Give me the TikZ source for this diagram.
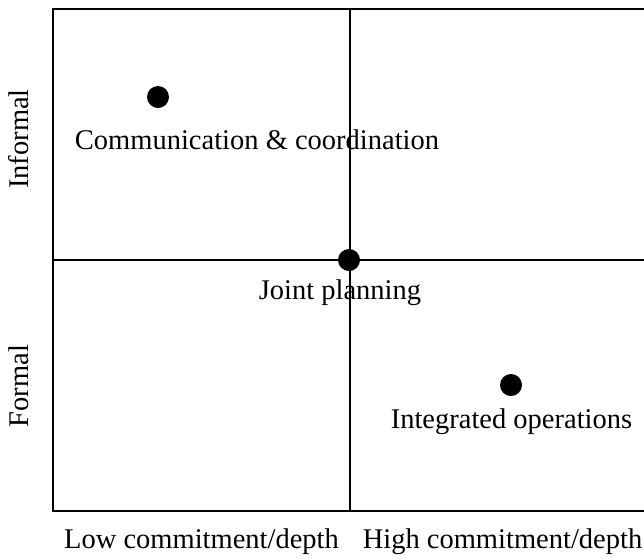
\documentclass[tikz,border=0pt]{standalone}
\usepackage{fontspec}
\setmainfont{Liberation Serif}
\begin{document}
\begin{tikzpicture}[x=1pt,y=-1pt,
  frame/.style={line width=2pt},
  axis/.style={line width=1.1pt},
  dot/.style={circle,fill=black,inner sep=0pt,minimum size=22pt},
  lbl/.style={anchor=base,inner sep=0pt,font=\fontsize{28.5}{34}\selectfont},
  sidelbl/.style={lbl,rotate=90}]
\useasboundingbox (0,0) rectangle (644,558);
% frame corners (right side runs off the page)
\coordinate (tl) at (53,9);
\coordinate (bl) at (53,511);
\coordinate (tr) at (646,9);
\coordinate (br) at (646,511);
\coordinate (mt) at (350,9);
\coordinate (mb) at (350,511);
\coordinate (ml) at (53,260);
\coordinate (mr) at (646,260);
\draw[frame] (tr) -- (tl) -- (bl) -- (br);
% quadrant dividers
\draw[axis] (mt) -- (mb);
\draw[axis] (ml) -- (mr);
% positions
\node[dot] (comm) at (158,97) {};
\node[dot] (joint) at (349,260) {};
\node[dot] (integ) at (511,385) {};
\node[lbl] (commtxt) at (257,149) {Communication \& coordination};
\node[lbl] (jointtxt) at (340,299) {Joint planning};
\node[lbl] (integtxt) at (511.5,428) {Integrated operations};
% axis labels
\node[lbl] (low) at (201.5,548) {Low commitment/depth};
\node[lbl] (high) at (502.5,548) {High commitment/depth};
\node[sidelbl] (informal) at (28,139) {Informal};
\node[sidelbl] (formal) at (28,386) {Formal};
\end{tikzpicture}
\end{document}
